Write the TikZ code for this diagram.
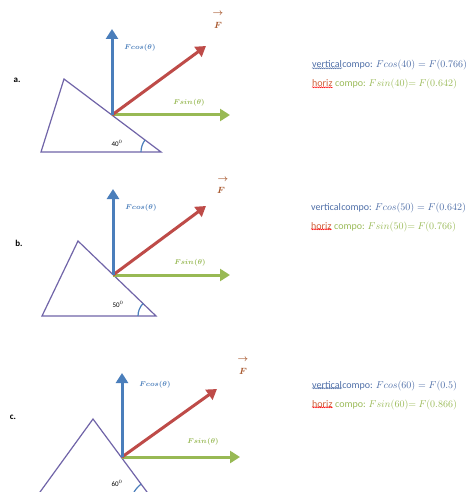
\documentclass[tikz,border=0pt]{standalone}
\usepackage{fontspec}
\setsansfont{Carlito}
\usetikzlibrary{arrows.meta,decorations.pathmorphing}
\definecolor{vblue}{HTML}{4A7EBB}
\definecolor{vred}{HTML}{BE4B48}
\definecolor{vgreen}{HTML}{98B954}
\definecolor{tricol}{HTML}{7064A8}
\definecolor{fbrown}{HTML}{A8582E}
\definecolor{tblue}{HTML}{4F6FA8}
\definecolor{tgreen}{HTML}{9BBB59}
\definecolor{horizcol}{HTML}{D0603A}
\begin{document}
\begin{tikzpicture}[x=1pt,y=-1pt,
  vec/.style={line width=3pt,-{Triangle[length=10pt,width=12pt]}},
  tri/.style={draw=tricol,line width=1.2pt},
  anglemark/.style={draw=vblue,line width=1.2pt},
  panel/.style={font=\sffamily\bfseries\fontsize{9}{10}\selectfont,inner sep=0pt},
  clab/.style={font=\fontsize{7.5}{8}\selectfont\boldmath,text=vblue,inner sep=0pt},
  slab/.style={font=\fontsize{7.5}{8}\selectfont\boldmath,text=vgreen,inner sep=0pt},
  flab/.style={font=\fontsize{9}{10}\selectfont\boldmath,text=fbrown,inner sep=0pt},
  deg/.style={font=\sffamily\fontsize{7}{8}\selectfont,inner sep=0pt},
  txt/.style={font=\sffamily\fontsize{10}{11}\selectfont,inner sep=0pt,anchor=base west},
  squig/.style={decorate,decoration={snake,amplitude=0.5pt,segment length=2.2pt},line width=0.5pt}
]
\useasboundingbox (0,0) rectangle (469,492);
\fill[white] (0,0) rectangle (469,492);
\begin{scope}
\clip (0,0) rectangle (469,492);
% ---------- panel a ----------
\coordinate (ta) at (64,79);
\coordinate (la) at (41,152);
\coordinate (ra) at (161,152);
\draw[tri] (ta) -- (la) -- (ra) -- cycle;
\draw[anglemark] (ra) ++(180:20) arc[start angle=180,end angle=217,radius=20];
\coordinate (oa) at (112,115);
\coordinate (bta) at (112,29);
\coordinate (rta) at (206,46);
\coordinate (gta) at (230,115);
\draw[vec,vgreen] (oa) -- (gta);
\draw[vec,vred] (oa) -- (rta);
\draw[vec,vblue] (oa) -- (bta);
\node[panel] (pa) at (17,80) {a.};
\node[deg] (da) at (117,143) {40$^0$};
\node[clab] (ca) at (140,48) {$Fcos(\theta)$};
\node[slab] (sa) at (189,103) {$Fsin(\theta)$};
\node[flab] (fa) at (218,14) {$\rightarrow$};
\node[flab] (fa2) at (218,25) {$F$};
% ---------- panel b ----------
\coordinate (tb) at (78,241);
\coordinate (lb) at (42,316);
\coordinate (rb) at (156,316);
\draw[tri] (tb) -- (lb) -- (rb) -- cycle;
\draw[anglemark] (rb) ++(180:18) arc[start angle=180,end angle=224,radius=18];
\coordinate (ob) at (113,275);
\coordinate (btb) at (113,189);
\coordinate (rtb) at (206,206);
\coordinate (gtb) at (230,275);
\draw[vec,vgreen] (ob) -- (gtb);
\draw[vec,vred] (ob) -- (rtb);
\draw[vec,vblue] (ob) -- (btb);
\node[panel] (pb) at (19,243) {b.}; 
\node[deg] (db) at (118,304) {50$^0$};
\node[clab] (cb) at (141,208) {$Fcos(\theta)$};
\node[slab] (sb) at (190,263) {$Fsin(\theta)$};
\node[flab] (fb) at (223,180) {$\rightarrow$};
\node[flab] (fb2) at (221,190) {$F$};
% ---------- panel c ----------
\coordinate (tc) at (93,419);
\coordinate (lc) at (30.6,505);
\coordinate (rc) at (156.6,505);
\draw[tri] (tc) -- (lc) -- (rc) -- cycle;
\draw[anglemark] (rc) ++(180:26) arc[start angle=180,end angle=233,radius=26];
\coordinate (oc) at (122,457);
\coordinate (btc) at (122,373);
\coordinate (rtc) at (217,389);
\coordinate (gtc) at (240,457);
\draw[vec,vgreen] (oc) -- (gtc);
\draw[vec,vred] (oc) -- (rtc);
\draw[vec,vblue] (oc) -- (btc);
\node[panel] (pc) at (13,417) {c.};
\node[deg] (dc) at (117,483) {60$^0$};
\node[clab] (cc) at (155,385) {$Fcos(\theta)$};
\node[slab] (sc) at (203,442) {$Fsin(\theta)$};
\node[flab] (fc) at (243,360) {$\rightarrow$};
\node[flab] (fc2) at (243,371) {$F$};
\end{scope}
% ---------- text a ----------
\node[txt,text=tblue] (va) at (312,68) {vertical};
\node[txt,text=tblue] (va2) at (va.base east) {compo: $Fcos(40) = F(0.766)$};
\draw[squig,tblue] (va.south west) -- (va.south east);
\node[txt,text=horizcol] (ha) at (312,87) {horiz};
\node[txt,text=tgreen] (ha2) at (ha.base east) {\ compo: $Fsin(40){=}\ F(0.642)$};
\draw[squig,red] (ha.south west) -- (ha.south east);
% ---------- text b ----------
\node[txt,text=tblue] (vb) at (311,210) {vertical};
\node[txt,text=tblue] (vb2) at (vb.base east) {compo: $Fcos(50) = F(0.642)$};
\node[txt,text=horizcol] (hb) at (311,229) {horiz};
\node[txt,text=tgreen] (hb2) at (hb.base east) {\ compo: $Fsin(50){=}\ F(0.766)$};
\draw[squig,red] (hb.south west) -- (hb.south east);
% ---------- text c ----------
\node[txt,text=tblue] (vc) at (312,388) {vertical};
\node[txt,text=tblue] (vc2) at (vc.base east) {compo: $Fcos(60) = F(0.5)$};
\draw[squig,tblue] (vc.south west) -- (vc.south east);
\node[txt,text=horizcol] (hc) at (312,407) {horiz};
\node[txt,text=tgreen] (hc2) at (hc.base east) {\ compo: $Fsin(60){=}\ F(0.866)$};
\draw[squig,red] (hc.south west) -- (hc.south east);
\end{tikzpicture}
\end{document}
